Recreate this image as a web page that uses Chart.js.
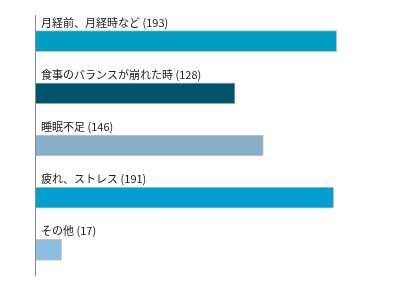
<!DOCTYPE html>
<html><head><meta charset="utf-8">
<script src="https://cdn.jsdelivr.net/npm/chart.js@4"></script>
<style>html,body{margin:0;padding:0;background:#fff}#w{width:396px;height:290px}</style>
</head><body><div id="w"><canvas id="c"></canvas></div>
<script>
const categories = ["月経前、月経時など", "食事のバランスが崩れた時", "睡眠不足", "疲れ、ストレス", "その他"];
const values = [193, 128, 146, 191, 17];
const barColors = ["#009DC2", "#00536C", "#87AFC7", "#009ED1", "#8CBFDF"];

const labelPlugin = {
  id: 'labels',
  afterDatasetsDraw(chart) {
    const ctx = chart.ctx;
    const meta = chart.getDatasetMeta(0);
    const xs = chart.scales.x;
    const x0 = xs.getPixelForValue(0);
    ctx.save();
    ctx.strokeStyle = '#8a8a8a';
    ctx.lineWidth = 1;
    ctx.beginPath();
    ctx.moveTo(Math.round(x0) + 0.5, chart.chartArea.top);
    ctx.lineTo(Math.round(x0) + 0.5, chart.chartArea.bottom);
    ctx.stroke();
    ctx.font = '11px "Noto Sans CJK JP", sans-serif';
    ctx.fillStyle = '#1a1a1a';
    ctx.textBaseline = 'alphabetic';
    ctx.textAlign = 'left';
    meta.data.forEach((bar, i) => {
      const top = bar.y - bar.height / 2;
      ctx.fillText(categories[i] + ' (' + values[i] + ')', x0 + 6, top - 4);
    });
    ctx.restore();
  }
};

new Chart(document.getElementById('c'), {
  type: 'bar',
  data: {
    labels: categories,
    datasets: [{
      data: values,
      backgroundColor: barColors,
      borderColor: '#c6c4b6',
      borderWidth: 1,
      borderSkipped: false,
      barThickness: 21
    }]
  },
  options: {
    indexAxis: 'y',
    responsive: true,
    maintainAspectRatio: false,
    animation: false,
    layout: { padding: { left: 35, right: 17, top: 15, bottom: 14 } },
    plugins: { legend: { display: false }, tooltip: { enabled: false } },
    scales: {
      x: { display: false, min: 0, max: 220 },
      y: { display: false }
    }
  },
  plugins: [labelPlugin]
});
</script>
</body></html>
